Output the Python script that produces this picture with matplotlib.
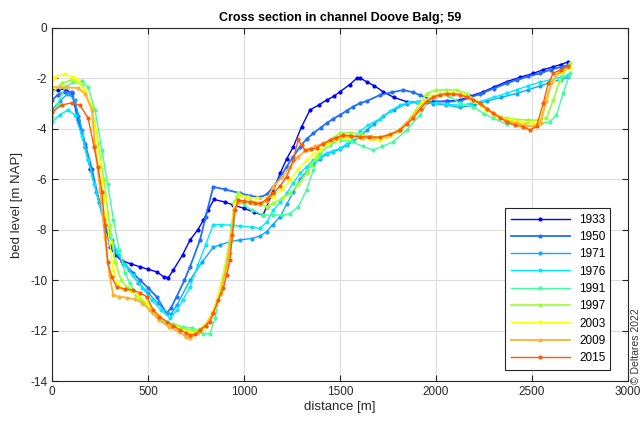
import matplotlib
matplotlib.use("Agg")
import matplotlib.pyplot as plt

plt.rcParams['font.family'] = ['Liberation Sans', 'DejaVu Sans']

years = ['1933', '1950', '1971', '1976', '1991', '1997', '2003', '2009', '2015']
colors = ['#0000ff', '#1f6fff', '#10a8ff', '#00eaff', '#40ff9a', '#98ff30', '#ffff00', '#ffb030', '#ff5a00']
widths = [1.0, 1.3, 1.0, 1.0, 1.0, 1.2, 1.0, 1.3, 1.0]

x1933 = [0, 30, 68, 104, 135, 172, 200, 250, 285, 302, 330, 363, 410, 458, 500, 545, 583, 606, 632, 680, 719, 760, 788, 815, 844, 900, 944, 1000, 1050, 1099, 1118, 1150, 1188, 1222, 1257, 1300, 1344, 1390, 1430, 1470, 1500, 1550, 1587, 1604, 1639, 1680, 1726, 1780, 1847, 1917, 1986, 2060, 2125, 2180, 2247, 2300, 2368, 2440, 2507, 2560, 2611, 2650, 2688]
y1933 = [-2.46, -2.45, -2.42, -2.58, -3.65, -4.72, -5.6, -6.96, -8.0, -8.68, -9.0, -9.23, -9.35, -9.47, -9.57, -9.67, -9.87, -9.9, -9.6, -9.0, -8.41, -8.0, -7.62, -7.2, -6.8, -6.9, -7.02, -7.15, -7.3, -7.42, -7.09, -6.5, -5.77, -5.2, -4.71, -3.92, -3.25, -3.05, -2.86, -2.7, -2.53, -2.25, -2.0, -1.98, -2.13, -2.3, -2.53, -2.75, -2.92, -2.95, -2.92, -2.9, -2.86, -2.7, -2.53, -2.35, -2.13, -1.95, -1.8, -1.65, -1.54, -1.45, -1.35]

x1950 = [0, 30, 68, 104, 135, 172, 208, 245, 280, 302, 371, 420, 458, 500, 545, 597, 620, 649, 690, 719, 771, 800, 840, 900, 979, 1030, 1083, 1118, 1153, 1190, 1222, 1257, 1292, 1326, 1361, 1400, 1430, 1465, 1500, 1535, 1569, 1604, 1639, 1708, 1770, 1830, 1880, 1917, 1960, 2003, 2060, 2125, 2180, 2229, 2300, 2368, 2420, 2480, 2542, 2600, 2650, 2690]
y1950 = [-2.86, -2.65, -2.53, -2.53, -3.5, -4.6, -5.6, -6.9, -7.9, -8.54, -9.34, -9.7, -10.0, -10.3, -10.66, -11.32, -11.1, -10.66, -10.0, -9.47, -8.41, -7.5, -6.3, -6.4, -6.55, -6.65, -6.72, -6.6, -6.3, -5.9, -5.5, -5.1, -4.71, -4.4, -4.18, -3.95, -3.78, -3.6, -3.45, -3.28, -3.12, -2.98, -2.9, -2.66, -2.55, -2.46, -2.55, -2.66, -2.8, -2.92, -2.92, -2.9, -2.75, -2.62, -2.4, -2.2, -2.06, -1.92, -1.8, -1.65, -1.55, -1.47]

x1971 = [0, 40, 83, 120, 156, 190, 230, 270, 310, 350, 400, 450, 500, 550, 600, 620, 650, 719, 780, 840, 875, 927, 980, 1040, 1083, 1118, 1150, 1188, 1222, 1257, 1292, 1326, 1361, 1396, 1430, 1465, 1500, 1535, 1569, 1604, 1640, 1680, 1726, 1780, 1847, 1900, 1986, 2050, 2125, 2200, 2264, 2340, 2420, 2480, 2542, 2600, 2650, 2690]
y1971 = [-3.25, -2.9, -2.6, -2.86, -4.05, -5.2, -6.5, -7.6, -8.4, -9.0, -9.6, -10.1, -10.5, -10.9, -11.3, -11.35, -11.0, -10.0, -9.3, -8.7, -8.6, -8.48, -8.4, -8.35, -8.25, -8.08, -7.8, -7.49, -7.0, -6.5, -6.0, -5.7, -5.4, -5.2, -5.0, -4.9, -4.8, -4.65, -4.5, -4.3, -4.05, -3.8, -3.5, -3.25, -3.0, -2.95, -3.0, -3.05, -3.15, -3.05, -2.9, -2.75, -2.6, -2.45, -2.3, -2.15, -2.05, -1.95]

x1976 = [0, 40, 83, 120, 156, 188, 220, 260, 300, 340, 380, 420, 470, 520, 570, 615, 650, 680, 719, 760, 800, 840, 880, 930, 980, 1040, 1083, 1118, 1153, 1190, 1222, 1257, 1292, 1326, 1361, 1396, 1430, 1465, 1500, 1535, 1569, 1604, 1648, 1708, 1760, 1813, 1860, 1899, 1950, 2003, 2060, 2125, 2180, 2229, 2300, 2368, 2420, 2480, 2542, 2600, 2650, 2690]
y1976 = [-3.73, -3.45, -3.25, -3.45, -4.3, -5.24, -6.2, -7.3, -8.2, -8.9, -9.4, -9.8, -10.3, -10.8, -11.2, -11.5, -11.2, -10.8, -10.27, -9.4, -8.6, -7.8, -7.8, -7.82, -7.85, -7.9, -7.95, -7.7, -7.22, -6.9, -6.56, -6.15, -5.77, -5.5, -5.24, -5.1, -4.97, -4.87, -4.77, -4.6, -4.44, -4.1, -3.85, -3.6, -3.3, -3.06, -2.95, -2.92, -2.95, -2.99, -3.03, -3.06, -3.0, -2.92, -2.75, -2.59, -2.45, -2.3, -2.15, -2.05, -1.95, -1.87]

x1991 = [0, 30, 68, 110, 156, 188, 224, 260, 290, 320, 350, 380, 406, 440, 476, 528, 580, 630, 680, 730, 788, 823, 850, 875, 900, 927, 945, 962, 1000, 1040, 1100, 1153, 1200, 1240, 1283, 1326, 1361, 1396, 1448, 1500, 1560, 1620, 1674, 1720, 1778, 1847, 1917, 1969, 2020, 2070, 2125, 2194, 2250, 2299, 2368, 2450, 2542, 2594, 2628, 2663, 2698]
y1991 = [-3.53, -3.0, -2.34, -2.15, -2.1, -2.34, -3.25, -4.84, -6.2, -7.6, -8.8, -9.7, -10.13, -10.6, -10.93, -11.32, -11.59, -11.75, -11.85, -11.9, -12.12, -12.12, -11.5, -10.53, -9.7, -8.94, -7.8, -6.69, -7.0, -7.22, -7.42, -7.42, -7.42, -7.36, -7.09, -6.43, -5.63, -4.97, -4.64, -4.44, -4.5, -4.7, -4.84, -4.7, -4.51, -4.05, -3.45, -2.8, -2.6, -2.7, -2.99, -3.12, -3.4, -3.58, -3.82, -3.8, -3.78, -3.72, -3.45, -2.59, -1.8]

x1997 = [0, 52, 104, 156, 208, 240, 270, 300, 330, 360, 389, 420, 460, 500, 550, 600, 650, 700, 740, 780, 820, 860, 900, 930, 950, 970, 1010, 1049, 1083, 1118, 1153, 1200, 1240, 1283, 1326, 1350, 1378, 1400, 1430, 1465, 1500, 1550, 1604, 1660, 1708, 1760, 1813, 1865, 1917, 1951, 2003, 2050, 2108, 2160, 2210, 2260, 2310, 2368, 2420, 2480, 2530, 2576, 2611, 2646, 2698]
y1997 = [-2.58, -2.18, -2.06, -2.26, -3.13, -4.56, -6.0, -7.8, -9.3, -10.0, -10.27, -10.4, -10.7, -11.0, -11.4, -11.7, -11.8, -11.95, -12.0, -11.9, -11.6, -10.8, -9.5, -8.2, -6.9, -6.56, -6.7, -6.89, -7.0, -7.09, -6.96, -6.75, -6.56, -6.2, -5.77, -5.45, -5.1, -4.85, -4.58, -4.35, -4.18, -4.15, -4.2, -4.3, -4.35, -4.25, -4.0, -3.6, -3.0, -2.6, -2.46, -2.45, -2.46, -2.6, -2.9, -3.2, -3.45, -3.58, -3.63, -3.65, -3.65, -3.58, -2.86, -2.06, -1.4]

x2003 = [0, 16, 68, 110, 135, 170, 200, 225, 250, 275, 300, 320, 337, 370, 410, 450, 500, 550, 600, 650, 700, 740, 780, 820, 860, 900, 930, 950, 979, 1020, 1066, 1118, 1153, 1200, 1240, 1283, 1326, 1361, 1396, 1440, 1483, 1540, 1604, 1660, 1708, 1760, 1813, 1870, 1930, 1980, 2030, 2090, 2140, 2200, 2260, 2320, 2390, 2450, 2507, 2542, 2576, 2611, 2650, 2698]
y2003 = [-2.1, -1.93, -1.83, -1.95, -2.06, -2.5, -3.0, -4.0, -5.3, -6.8, -8.5, -9.6, -10.13, -10.35, -10.45, -10.6, -10.95, -11.4, -11.7, -11.9, -12.05, -12.1, -11.95, -11.55, -10.8, -9.6, -8.3, -7.0, -6.63, -6.7, -6.76, -6.72, -6.69, -6.4, -6.03, -5.6, -5.24, -5.0, -4.84, -4.6, -4.44, -4.35, -4.35, -4.4, -4.45, -4.3, -4.05, -3.55, -2.95, -2.7, -2.6, -2.58, -2.65, -2.9, -3.25, -3.5, -3.65, -3.72, -3.78, -3.72, -2.73, -2.06, -1.75, -1.6]

x2009 = [0, 40, 80, 135, 172, 208, 224, 250, 275, 300, 319, 350, 390, 430, 470, 510, 560, 610, 660, 700, 719, 760, 800, 840, 880, 910, 930, 950, 975, 1031, 1083, 1118, 1153, 1200, 1240, 1283, 1326, 1370, 1413, 1460, 1500, 1560, 1620, 1680, 1740, 1800, 1850, 1900, 1950, 2000, 2060, 2120, 2180, 2240, 2300, 2360, 2420, 2470, 2510, 2545, 2575, 2600, 2640, 2690]
y2009 = [-2.33, -2.35, -2.36, -2.38, -2.6, -3.25, -4.7, -6.4, -8.3, -9.8, -10.6, -10.65, -10.7, -10.75, -10.9, -11.2, -11.6, -11.85, -12.05, -12.25, -12.3, -12.1, -11.8, -11.3, -10.5, -9.4, -8.4, -7.2, -6.9, -6.95, -7.0, -6.85, -6.3, -5.9, -5.5, -5.1, -4.84, -4.7, -4.58, -4.45, -4.31, -4.3, -4.35, -4.38, -4.3, -4.1, -3.75, -3.3, -2.9, -2.7, -2.6, -2.62, -2.78, -3.05, -3.4, -3.65, -3.78, -3.88, -3.9, -3.75, -2.9, -2.2, -1.75, -1.55]

x2015 = [0, 52, 104, 146, 188, 219, 240, 260, 275, 290, 311, 337, 380, 423, 460, 493, 528, 560, 597, 630, 667, 700, 719, 745, 771, 800, 823, 840, 865, 892, 910, 927, 940, 953, 970, 1000, 1031, 1060, 1083, 1118, 1153, 1190, 1222, 1257, 1283, 1300, 1318, 1350, 1378, 1410, 1448, 1480, 1517, 1560, 1604, 1650, 1708, 1760, 1813, 1850, 1882, 1920, 1951, 1986, 2021, 2056, 2090, 2125, 2160, 2195, 2229, 2265, 2299, 2335, 2368, 2410, 2455, 2490, 2524, 2559, 2585, 2611, 2650, 2690]
y2015 = [-3.33, -3.05, -2.97, -3.06, -3.57, -4.72, -5.5, -6.5, -7.8, -9.3, -9.87, -10.27, -10.35, -10.4, -10.5, -10.66, -11.19, -11.45, -11.65, -11.8, -11.98, -12.1, -12.18, -12.15, -11.98, -11.8, -11.65, -11.32, -10.8, -10.33, -9.8, -9.2, -8.2, -7.22, -6.83, -6.86, -6.89, -6.93, -6.96, -6.8, -6.56, -6.25, -5.9, -5.24, -4.42, -4.65, -4.84, -4.8, -4.77, -4.6, -4.44, -4.35, -4.25, -4.28, -4.31, -4.32, -4.33, -4.22, -4.05, -3.8, -3.58, -3.2, -2.92, -2.73, -2.66, -2.6, -2.63, -2.66, -2.73, -2.85, -2.99, -3.2, -3.39, -3.55, -3.72, -3.85, -3.92, -4.05, -3.9, -2.99, -2.2, -1.8, -1.65, -1.51]

xs = [x1933, x1950, x1971, x1976, x1991, x1997, x2003, x2009, x2015]
ys = [y1933, y1950, y1971, y1976, y1991, y1997, y2003, y2009, y2015]

title = 'Cross section in channel Doove Balg; 59'
xlabel = 'distance [m]'
ylabel = 'bed level [m NAP]'
credit = '\u00a9 Deltares 2022'
xticks = [0, 500, 1000, 1500, 2000, 2500, 3000]
yticks = [0, -2, -4, -6, -8, -10, -12, -14]

fig = plt.figure(figsize=(6.42, 4.24), dpi=100)
ax = fig.add_axes([0.081, 0.1014, 0.897, 0.8326])

for x, y, c, w, lab in zip(xs, ys, colors, widths, years):
    ax.plot(x, y, '-', color=c, lw=w, marker='o', markersize=3.0,
            markeredgewidth=0, label=lab)

ax.set_xlim(0, 3000)
ax.set_ylim(-14, 0)
ax.set_xticks(xticks)
ax.set_yticks(yticks)
ax.set_yticklabels([str(v) for v in yticks])
ax.grid(True, color='#dcdcdc', lw=0.8)
ax.set_axisbelow(True)
ax.tick_params(direction='in', top=True, right=True, labelsize=8.5,
               colors='#262626', length=4, width=0.8)
for s in ax.spines.values():
    s.set_color('#262626')
    s.set_linewidth(0.8)

ax.set_title(title, fontsize=9, fontweight='bold', pad=5)
ax.set_xlabel(xlabel, fontsize=9.5, color='#262626', labelpad=2)
ax.set_ylabel(ylabel, fontsize=9.5, color='#262626', labelpad=5)

leg = ax.legend(loc='lower left', bbox_to_anchor=(0.786, 0.031, 0.183, 0.439),
                mode='expand', fontsize=8.5, handlelength=5.0, frameon=True,
                fancybox=False, edgecolor='#262626', framealpha=1,
                borderaxespad=0, labelspacing=0.45, borderpad=0.5)
leg.get_frame().set_linewidth(0.8)

fig.text(0.991, 0.095, credit, rotation=90, fontsize=7.5, color='#333333',
         ha='center', va='bottom')

fig.savefig('out.png', dpi=100)
